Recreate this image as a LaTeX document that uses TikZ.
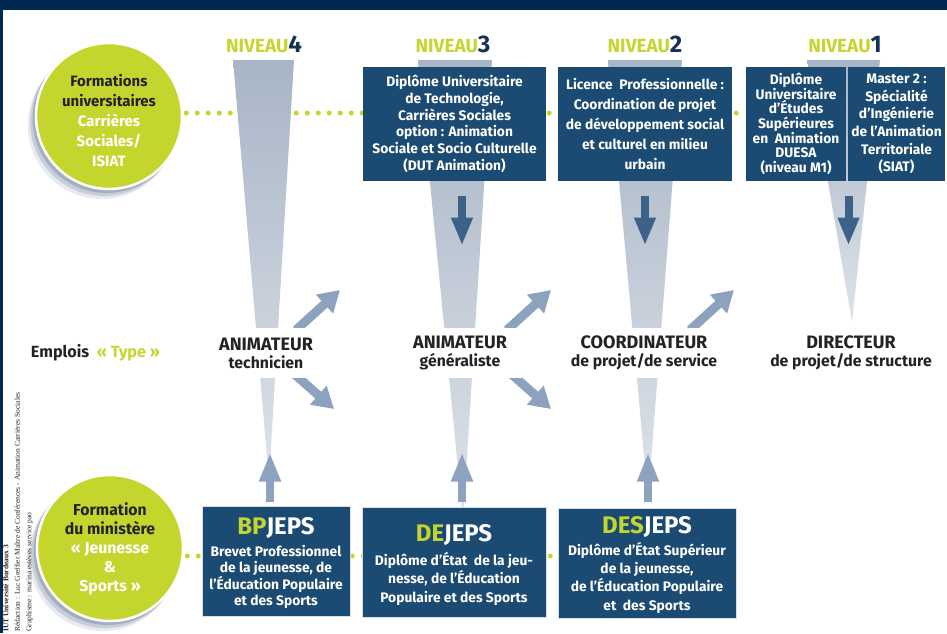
\documentclass[tikz,border=0pt]{standalone}
\usepackage{fontspec}
\setmainfont{Fira Sans}
\newfontfamily\creditfont{Liberation Serif}
\usepackage{xcolor}
\definecolor{Band-navy}{RGB}{0, 40, 80}
\definecolor{Box-blue}{RGB}{27, 74, 114}
\definecolor{Box-edge}{RGB}{214, 223, 232}
\definecolor{Lime}{RGB}{196, 214, 45}
\definecolor{Navy-digit}{RGB}{20, 50, 85}
\definecolor{Ink-dark}{RGB}{35, 35, 38}
\definecolor{Funnel-dark}{RGB}{168, 181, 198}
\definecolor{Funnel-light}{RGB}{222, 227, 233}
\definecolor{Arrow-light}{RGB}{141, 162, 191}
\definecolor{Arrow-dark}{RGB}{62, 97, 137}
\definecolor{Shadow-blue}{RGB}{55, 80, 112}
\usepackage{tikz}
\usetikzlibrary{backgrounds,arrows.meta,positioning,calc}

\begin{document}
\begin{tikzpicture} [ % 像素坐标, y 向下
            x=1pt, y=-1pt, font=\bfseries,
            plain/.style = {draw=none, inner sep=0pt, text=Ink-dark, align=center},
            circle-lime/.style = {circle, minimum size=146pt, inner sep=0pt, fill=Lime, draw=white, line width=2.5pt},
            box-navy/.style = {rectangle, inner sep=0pt, fill=Box-blue, draw=Box-edge, line width=1pt},
            box-text/.style = {plain, text=white, font=\bfseries\fontsize{13.8}{16.7}\selectfont},
            title-jeps/.style = {plain, text=white, font=\bfseries\fontsize{24}{24}\selectfont},
            niveau/.style = {plain, anchor=base, text=Lime, font=\bfseries\fontsize{19}{19}\selectfont},
            job/.style = {plain, fill=white, minimum width=124pt, minimum height=50pt, font=\bfseries\fontsize{18}{18}\selectfont},
            credit/.style = {plain, align=left, font=\creditfont\fontsize{7.5}{11.5}\selectfont},
            funnel/.style = {top color=Funnel-dark, bottom color=Funnel-light},
            dots/.style = {draw=Lime, line width=5pt, line cap=round, dash pattern=on 0pt off 11pt, dash phase=8pt},
            arrow-down/.style = {draw=Arrow-dark, line width=8pt, -{Triangle[width=20pt, length=28pt]}},
            arrow-up/.style = {draw=Arrow-light, line width=8pt, -{Triangle[width=20pt, length=29pt]}},
            arrow-diag/.style = {draw=Arrow-light, line width=9pt, -{Triangle[width=24pt, length=21pt]}}
        ]

        % 宏
        \pgfmathsetmacro{\ftop}{60}; % 漏斗顶边
        \useasboundingbox (0,0) rectangle (947,633);

        % 边框
        \fill [Band-navy] (0,0) rectangle (947,10);
        \fill [Band-navy] (0,0) rectangle (3,633);

        % 圆的阴影
        \foreach \d/\o in {9/0.12, 6/0.18, 3/0.25} {
            \fill [Shadow-blue, opacity=\o] (109-0.8*\d,116+\d) circle (74pt);
            \fill [Shadow-blue, opacity=\o] (110-0.8*\d,548+\d) circle (74pt);
        }

        % 圆
        \node [circle-lime] (univ) at (109,116) {};
        \node [plain, font=\bfseries\fontsize{15}{20}\selectfont] (univ-text) at (109,121)
            {Formations\\universitaires\\\textcolor{white}{Carrières}\\\textcolor{white}{Sociales/}\\\textcolor{white}{ISIAT}};
        \node [circle-lime] (minis) at (110,548) {};
        \node [plain, font=\bfseries\fontsize{15.8}{19}\selectfont] (minis-text) at (110,549)
            {Formation\\du ministère\\\textcolor{white}{« Jeunesse}\\\textcolor{white}{\&}\\\textcolor{white}{Sports »}};

        % 级别
        \node [niveau] (niv4) at (264,52) {NIVEAU\textcolor{Navy-digit}{\fontsize{24}{24}\selectfont 4}};
        \node [niveau] (niv3) at (453,52) {NIVEAU\textcolor{Navy-digit}{\fontsize{24}{24}\selectfont 3}};
        \node [niveau] (niv2) at (645,52) {NIVEAU\textcolor{Navy-digit}{\fontsize{24}{24}\selectfont 2}};
        \node [niveau] (niv1) at (845,52) {NIVEAU\textcolor{Navy-digit}{\fontsize{24}{24}\selectfont 1}};

        % 上排方框
        \node [box-navy, box-text, minimum width=183pt, minimum height=114pt] (dut) at (454.5,124)
            {Diplôme Universitaire\\de Technologie,\\Carrières Sociales\\option : Animation\\Sociale et Socio Culturelle\\(DUT Animation)};
        \node [box-navy, box-text, minimum width=174pt, minimum height=114pt, font=\bfseries\fontsize{13.8}{20}\selectfont] (lp) at (645,124)
            {Licence\ \ Professionnelle :\\Coordination de projet\\de développement social\\et culturel en milieu\\urbain};
        \node [box-navy, box-text, minimum width=100pt, minimum height=114pt, font=\bfseries\fontsize{13.8}{14.7}\selectfont] (duesa) at (796,124)
            {Diplôme\\Universitaire\\d’Études\\Supérieures\\en\ \ Animation\\DUESA\\(niveau M1)};
        \node [box-navy, box-text, minimum width=97pt, minimum height=114pt, font=\bfseries\fontsize{13.8}{17.6}\selectfont] (siat) at (896.5,124)
            {Master 2 :\\Spécialité\\d’Ingénierie\\de l’Animation\\Territoriale\\(SIAT)};

        % 下排方框
        \node [box-navy, minimum width=148pt, minimum height=110pt] (bp) at (276,561) {};
        \node [title-jeps] (bp-title) at (276,528) {\textcolor{Lime}{BP}JEPS};
        \node [box-text, font=\bfseries\fontsize{13.8}{16}\selectfont] (bp-text) at (276,577)
            {Brevet Professionnel\\de la jeunesse, de\\l’Éducation Populaire\\et des Sports};

        \node [box-navy, minimum width=184pt, minimum height=110pt] (de) at (454,562) {};
        \node [title-jeps] (de-title) at (454,535) {\textcolor{Lime}{DE}JEPS};
        \node [box-text, font=\bfseries\fontsize{13.8}{18.5}\selectfont] (de-text) at (454,578.5)
            {Diplôme d’État\ \ de la jeu-\\nesse, de l’Éducation\\Populaire et des Sports};

        \node [box-navy, minimum width=178pt, minimum height=110pt] (des) at (647,563) {};
        \node [title-jeps] (des-title) at (647,527) {\textcolor{Lime}{DES}JEPS};
        \node [box-text, font=\bfseries\fontsize{13.8}{18.3}\selectfont] (des-text) at (647,577.5)
            {Diplôme d’État Supérieur\\de la jeunesse,\\de l’Éducation Populaire\\et\ \ des Sports};

        % emplois
        \node [plain, font=\bfseries\fontsize{16.2}{18}\selectfont] (emplois) at (95.5,353) {Emplois\ \ \textcolor{Lime}{« Type »}};
        \node [job] (anim-tech) at (266,353) {ANIMATEUR\\{\fontsize{15.8}{18}\selectfont technicien}};
        \node [job] (anim-gen) at (460,353) {ANIMATEUR\\{\fontsize{15.8}{18}\selectfont généraliste}};
        \node [job] (coord) at (644,353) {COORDINATEUR\\{\fontsize{15.8}{18}\selectfont de projet/de service}};
        \node [job] (direct) at (851,353) {DIRECTEUR\\{\fontsize{15.8}{18}\selectfont de projet/de structure}};

        % 信息
        \node [credit, rotate=90, anchor=north west] (credits) at (3,632)
            {\textbf{IUT Université Bordeaux 3}\\Rédaction : Luc Greffier Maître de Conférences - Animation Carrières Sociales\\Graphisme : marina estèves service pao};

        % 箭头端点
        \path (dut.south) ++(7.5,14) coordinate (dut-a) ++(0,50) coordinate (dut-b);
        \path (lp.south) ++(0,14) coordinate (lp-a) ++(0,50) coordinate (lp-b);
        \path (duesa.south east) ++(2,14) coordinate (duesa-a) ++(0,50) coordinate (duesa-b);
        \path (bp.north) ++(-6,-4) coordinate (bp-a) ++(0,-49) coordinate (bp-b);
        \path (de.north) ++(8,-5) coordinate (de-a) ++(0,-49) coordinate (de-b);
        \path (des.north) ++(1,-6) coordinate (des-a) ++(0,-49) coordinate (des-b);
        \path (anim-tech) ++(30,-23) coordinate (tech-ne-a) ++(44,-40) coordinate (tech-ne-b);
        \path (anim-tech) ++(26,19) coordinate (tech-se-a) ++(42,37) coordinate (tech-se-b);
        \path (anim-gen) ++(47,-23) coordinate (gen-ne-a) ++(44,-40) coordinate (gen-ne-b);
        \path (anim-gen) ++(49,19) coordinate (gen-se-a) ++(42,37) coordinate (gen-se-b);
        \path (coord) ++(46,-23) coordinate (coord-ne-a) ++(44,-40) coordinate (coord-ne-b);

        \begin{scope}[on background layer]
            % 点线
            \draw [dots] ([yshift=3pt]univ.east) -- ([yshift=3pt]univ.east -| duesa.west);
            \draw [dots] ([yshift=-8pt]minis.east) -- ([yshift=-8pt]minis.east -| des.west);

            % 漏斗
            \shade [funnel] (233,\ftop) -- (294,\ftop) -- (269,480) -- cycle;
            \shade [funnel] (418,\ftop) -- (492,\ftop) -- (463,520) -- cycle;
            \shade [funnel] (608,\ftop) -- (682,\ftop) -- (648,500) -- cycle;
            \shade [funnel] (807,\ftop) -- (880,\ftop) -- (852,322) -- cycle;

            % 连线
            \draw [arrow-down] (dut-a) -- (dut-b);
            \draw [arrow-down] (lp-a) -- (lp-b);
            \draw [arrow-down] (duesa-a) -- (duesa-b);
            \draw [arrow-up] (bp-a) -- (bp-b);
            \draw [arrow-up] (de-a) -- (de-b);
            \draw [arrow-up] (des-a) -- (des-b);
            \draw [arrow-diag] (tech-ne-a) -- (tech-ne-b);
            \draw [arrow-diag] (tech-se-a) -- (tech-se-b);
            \draw [arrow-diag] (gen-ne-a) -- (gen-ne-b);
            \draw [arrow-diag] (gen-se-a) -- (gen-se-b);
            \draw [arrow-diag] (coord-ne-a) -- (coord-ne-b);
        \end{scope}

    \end{tikzpicture}
\end{document}
